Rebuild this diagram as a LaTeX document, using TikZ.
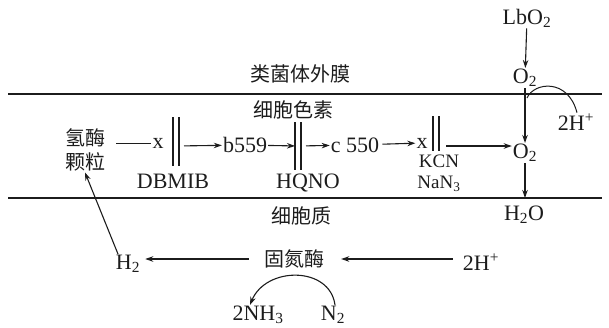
\documentclass[tikz,border=0pt]{standalone}
\usepackage{fontspec}
\usepackage{xcolor}
\usetikzlibrary{positioning,arrows.meta}
\setmainfont{Liberation Serif}
\newfontfamily\cjk{Noto Sans CJK SC}
\definecolor{ink}{HTML}{1C1C1C}
\newcommand{\zh}[1]{{\cjk\fontsize{20pt}{22pt}\selectfont #1}}
\newcommand{\sub}[1]{\textsubscript{#1}}
% double bar that blocks the chain: name, x, top, bottom
\newcommand{\dbar}[4]{%
  \draw[blk] (#2-3,#3) -- (#2-3,#4);
  \draw[blk] (#2+3,#3) -- (#2+3,#4);
  \coordinate (#1) at (#2,146);}

\begin{document}
\begin{tikzpicture}[
  x=1pt, y=-1pt,
  font=\fontsize{22pt}{24pt}\selectfont\color{ink},
  lbl/.style={inner sep=1pt, text=ink},
  line/.style={line width=1pt, draw=ink},
  arr/.style={-{Stealth[length=8pt,width=5.5pt]}, line width=1.1pt, draw=ink},
  memb/.style={line width=2.4pt, draw=ink},
  blk/.style={line width=1.4pt, draw=ink}
]
\useasboundingbox (0,0) rectangle (609,327);

% membranes
\coordinate (mtl) at (8,94);  \coordinate (mtr) at (602,94);
\coordinate (mbl) at (8,198); \coordinate (mbr) at (602,198);
\draw[memb] (mtl) -- (mtr);
\draw[memb] (mbl) -- (mbr);
\node[lbl] (outer) at (300,74) {\zh{类菌体外膜}};
\node[lbl] (cytc) at (293,110) {\zh{细胞色素}};
\node[lbl] (cyto) at (301,216) {\zh{细胞质}};

% electron chain
\node[lbl, align=center] (hase) at (85,150) {\zh{氢酶}\\\zh{颗粒}};
\node[lbl] (x1) at (158,143) {x};
\draw[line, shorten <=10pt] (hase.east |- x1) -- (x1);
\dbar{b1}{176}{117}{166}
\node[lbl] (dbmib) at (173,181) {DBMIB};
\node[lbl] (b559) at (245,145) {b559};
\draw[arr, shorten <=8pt] (b1) -- (b559);
\dbar{b2}{298}{122}{170}
\node[lbl] (hqno) at (308,183) {HQNO};
\draw[arr, shorten >=3pt] (b559) -- (b2);
\node[lbl] (c550) at (355,145) {c 550};
\draw[arr, shorten <=8pt] (b2) -- (c550);
\node[lbl] (x2) at (422,143) {x};
\draw[arr, shorten <=2pt] (c550) -- (x2);
\dbar{b3}{436}{116}{151}
\node[lbl, inner sep=0pt, align=center,
      font=\fontsize{19pt}{21pt}\selectfont] (kcn) at (439,173) {KCN\\NaN\sub{3}};

% oxygen side
\node[lbl] (lbo) at (527,18) {LbO\sub{2}};
\node[lbl] (otop) at (525,78) {O\sub{2}};
\node[lbl] (omid) at (525,153) {O\sub{2}};
\node[lbl] (h2o) at (524,215) {H\sub{2}O};
\node[lbl] (hp1) at (576,122) {2H\textsuperscript{+}};
\draw[arr, shorten <=10pt] (b3) -- (omid.west |- b3);
\draw[arr] (lbo) -- (otop);
\draw[arr] (otop) -- (omid);
\draw[arr] (omid) -- (omid |- mbl);
\coordinate (arcs) at (527,98);
\draw[line] (arcs) .. controls (534,82) and (568,78) .. ([xshift=1pt]hp1.north);

% cytoplasm
\node[lbl] (h2) at (128,264) {H\sub{2}};
\node[lbl] (nitro) at (294,259) {\zh{固氮酶}};
\node[lbl] (hp2) at (481,262) {2H\textsuperscript{+}};
\node[lbl] (nh3) at (258,315) {2NH\sub{3}};
\node[lbl] (n2) at (333,315) {N\sub{2}};
\draw[arr, shorten <=14pt, shorten >=4pt] (nitro.west) -- (h2.east |- nitro.west);
\draw[arr, shorten <=9pt, shorten >=16pt] (hp2.west |- nitro.east) -- (nitro.east);
\draw[arr] ([xshift=-10pt]h2.north) -- (hase.south);
\draw[arr] ([xshift=2pt]n2.north) .. controls (330,266) and (266,266) .. ([xshift=-8pt]nh3.north);
\end{tikzpicture}
\end{document}
